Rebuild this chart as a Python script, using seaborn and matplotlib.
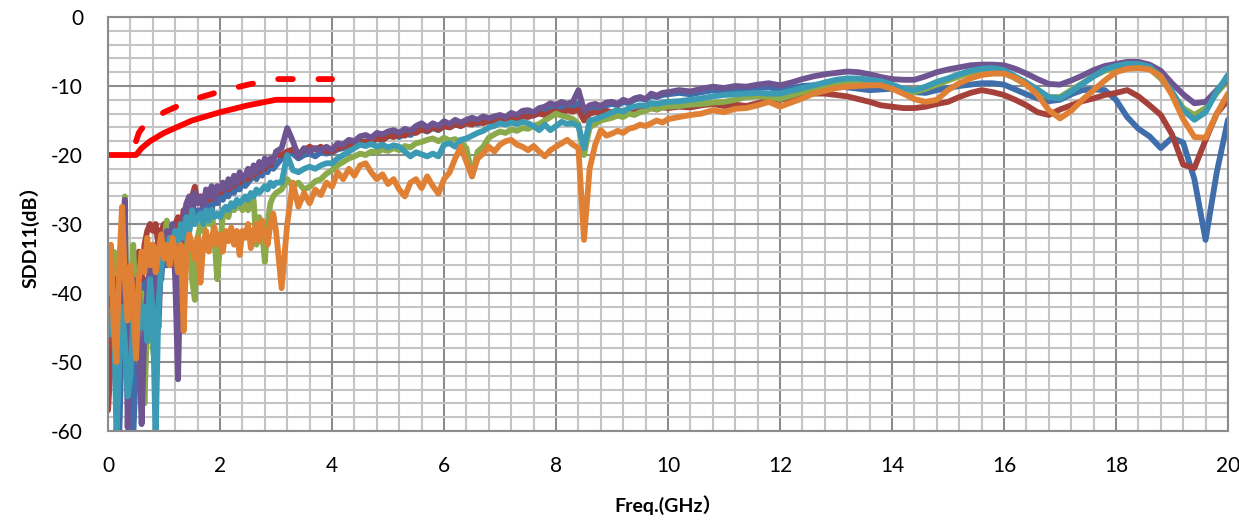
import numpy as np
import pandas as pd
import matplotlib
matplotlib.use("Agg")
import matplotlib.pyplot as plt
import seaborn as sns

# frequency grid (GHz), finer where the traces are noisy
freq_lo = np.round(np.arange(0.0, 3.0001, 0.05), 2)
freq_mid = np.round(np.arange(3.1, 10.0001, 0.1), 2)
freq_hi = np.round(np.arange(10.2, 20.0001, 0.2), 2)
freq = np.concatenate([freq_lo, freq_mid, freq_hi])

blue_lo = [-44, -47, -42, -52, -61, -45, -40, -48, -55, -61, -50, -42, -46, -38, -44, -40, -36, -41, -35, -38,
           -33, -36, -32, -35, -31, -34, -30, -32, -29, -31, -28, -30, -28, -29, -27, -28, -27, -28, -26, -27,
           -26, -26.5, -25.5, -26, -25, -25.5, -24.5, -25, -24, -24.5, -24, -23.5, -23, -23.5, -22.5, -23, -22, -22.5, -21.5, -22, -21.5]
blue_mid = [-20.5, -19.5, -19.8, -20.5, -20, -19.8, -20.2, -19.6, -19.8, -19.6,
            -19.2, -19, -18.6, -18.8, -18.2, -18, -18.2, -17.6, -17.8, -17.3,
            -17.1, -17.4, -16.9, -17.1, -16.6, -16.3, -16.6, -16.1, -16.4, -15.8,
            -16, -15.6, -15.8, -15.4, -15.2, -15.5, -15, -15.2, -14.8, -14.7,
            -14.9, -14.4, -14.6, -14.2, -14.1, -14.3, -13.8, -13.6, -13.3, -13.5,
            -13.1, -13.3, -13, -12.5, -14, -13.2, -13, -13.2, -12.8, -12.6,
            -12.8, -12.3, -12.5, -12, -11.8, -12, -11.4, -11.6, -11.3, -11.2]
blue_hi = [-11.0, -11.2, -10.9, -10.6, -10.8, -10.5, -10.6, -10.3, -10.2, -10.5,
           -10.3, -10.0, -9.9, -9.9, -10.0, -10.2, -10.4, -10.6, -10.5, -10.4,
           -10.5, -10.9, -11.0, -10.6, -10.3, -10.0, -9.8, -9.6, -9.6, -9.8,
           -10.5, -11.2, -11.8, -12.2, -12.0, -11.2, -10.6, -10.5, -10.6, -12.0,
           -14.5, -16.2, -17.3, -19.0, -17.5, -18.2, -23.5, -32.3, -22.5, -14.9]

red_lo = [-57, -50, -44, -40, -35, -38, -45, -52, -47, -40, -36, -34, -38, -33, -31, -30, -31, -30, -33, -31,
          -30, -32, -31, -36, -30, -29, -31, -28, -29, -27, -26, -24.6, -27, -26, -27, -25.5, -26.5, -25, -26, -25,
          -25.5, -25, -24.5, -25, -24, -24.5, -23.5, -24, -23.5, -23, -23.5, -22.5, -23, -22, -22.5, -21.5, -22, -21, -21.5, -20.5, -20]
red_mid = [-20, -19.5, -19.2, -19.8, -19.3, -18.8, -19.2, -18.8, -19.5, -19.5,
           -19, -18.8, -18.5, -18.7, -18, -18.2, -17.8, -17.6, -17.9, -17.2,
           -17.4, -17, -17.2, -16.6, -16.8, -16.3, -16.5, -16, -16.3, -15.8,
           -16, -15.5, -15.8, -15.4, -15.6, -15.2, -15.4, -15, -15.2, -14.8,
           -15, -14.6, -14.8, -14.4, -14.5, -14.2, -14, -14.2, -13.8, -13.7,
           -13.9, -13.5, -13.7, -13.4, -15, -14, -13.8, -14, -13.6, -13.8,
           -13.5, -13.7, -13.4, -13.6, -13.3, -13.5, -13.2, -13.4, -13.1, -13.2]
red_hi = [-13.0, -13.1, -12.8, -12.6, -12.9, -12.7, -12.9, -12.5, -12.0, -12.0,
          -11.7, -11.3, -11.1, -11.1, -11.3, -11.5, -11.9, -12.3, -12.8, -13.0,
          -13.2, -13.2, -13.0, -12.6, -12.3, -11.6, -11.0, -10.6, -10.9, -11.3,
          -12.0, -12.8, -13.8, -14.2, -13.4, -12.8, -12.2, -11.8, -11.3, -11.0,
          -10.6, -11.5, -12.8, -14.2, -17.0, -21.4, -21.9, -17.8, -14.0, -12.0]

green_lo = [-42, -38, -34, -40, -34, -45, -26, -53, -42, -33, -45, -50, -40, -56, -44, -38, -48, -51, -40, -36,
            -33, -29.5, -34, -32, -35, -31, -33, -30, -36, -32, -38, -41, -32, -30, -31, -29, -30, -28, -32, -38,
            -33, -29, -28, -29, -27, -28, -27.5, -27, -28, -26.5, -28, -27, -26.5, -33, -29, -31, -35.5, -30, -27, -26, -25.5]
green_mid = [-25, -23.5, -24.5, -24, -25, -24.6, -23.8, -23.5, -22.7, -22.2,
             -21.5, -21, -20.5, -20.2, -19.8, -20, -19.5, -19.6, -19.2, -19.4,
             -19, -19.3, -18.7, -18.9, -18.3, -18.1, -17.8, -17.6, -18, -17.5,
             -17.9, -17.7, -18.2, -19, -23.1, -19.5, -18.8, -17.5, -17, -16.6,
             -16.8, -16.3, -16.5, -16.1, -16.2, -15.8, -15.5, -15, -14.5, -14,
             -14.3, -14.5, -14.8, -15.5, -20, -16, -15.5, -15, -14.8, -14.6,
             -14.3, -14.5, -14, -14.2, -13.8, -13.6, -13.2, -13.4, -13.1, -13]
green_hi = [-12.9, -12.7, -12.6, -12.4, -12.3, -12.0, -11.6, -11.5, -11.6, -11.9,
            -11.4, -10.9, -10.5, -10.1, -9.7, -9.4, -9.4, -9.6, -9.8, -10.2,
            -10.7, -10.9, -10.4, -9.8, -9.2, -8.6, -8.1, -7.8, -7.7, -8.0,
            -8.9, -9.8, -10.8, -11.6, -11.6, -10.6, -9.6, -8.6, -7.8, -7.4,
            -7.2, -7.2, -7.5, -8.9, -11.0, -13.2, -14.2, -13.2, -11.0, -9.2]

purple_lo = [-36, -40, -45, -38, -48, -35, -26.5, -59.5, -44, -38, -42, -48, -59, -45, -40, -36, -33, -37, -45, -35,
             -33, -31, -34, -30, -38, -52.5, -34, -29, -27, -26, -29, -25.5, -27, -26, -27.5, -25, -26, -24.5, -26.5, -24.5,
             -25, -24, -25, -23.5, -24.5, -23, -24, -22.5, -23.5, -23, -22, -23, -21.5, -22.5, -21, -22, -20.5, -21.5, -20.5, -21, -19.5]
purple_mid = [-19, -16.1, -18, -20.2, -19, -19.5, -19, -19.3, -18.8, -19.3,
              -18.3, -18.5, -17.8, -18, -17.3, -17.1, -17.5, -16.8, -17, -16.6,
              -16.4, -16.8, -16.2, -16.5, -15.8, -15.4, -16, -15.4, -15.8, -15.1,
              -15.5, -14.9, -15.3, -14.9, -14.6, -14.9, -14.4, -14.7, -14.4, -14.2,
              -14.5, -13.9, -14.2, -13.6, -13.5, -13.8, -13.2, -13.0, -12.5, -12.8,
              -12.3, -12.6, -12.3, -10.6, -13.5, -12.8, -12.6, -12.9, -12.4, -12.3,
              -12.6, -12.0, -12.3, -11.8, -11.6, -11.9, -11.1, -11.4, -11.0, -10.9]
purple_hi = [-10.6, -10.8, -10.4, -10.1, -10.3, -10.0, -10.1, -9.8, -9.6, -9.9,
             -9.5, -9.0, -8.6, -8.3, -8.1, -7.9, -8.0, -8.3, -8.7, -9.0,
             -9.1, -9.1, -8.6, -8.0, -7.6, -7.3, -7.0, -6.9, -6.9, -7.0,
             -7.5, -8.2, -9.0, -9.7, -9.8, -9.2, -8.5, -7.7, -7.1, -6.8,
             -6.5, -6.5, -6.9, -7.8, -9.6, -11.2, -12.5, -12.3, -10.6, -8.9]

teal_lo = [-43, -46, -40, -61, -50, -42, -47, -55, -52, -44, -48, -40, -45, -42, -47, -38, -43, -61, -42, -36,
           -33, -35, -32, -34, -31, -33, -30, -32, -29, -31, -28, -30, -29, -28.5, -30, -28, -29.5, -28, -29, -28.5,
           -29, -28, -27.5, -28, -27, -27.5, -26.5, -27, -26.5, -26, -26.5, -25.5, -26, -25, -25.5, -25, -24.5, -25, -24, -24.5, -24]
teal_mid = [-24, -20, -22.2, -22.5, -22, -21.7, -22, -21.5, -21.2, -21.2,
            -20.5, -20, -19.5, -19, -18.5, -18.7, -18.4, -18.8, -18.5, -18.9,
            -18.6, -18.8, -19.5, -20.2, -19.6, -19.9, -20.2, -19.8, -20.2, -18.5,
            -18.3, -18.8, -17.8, -17.6, -17.2, -16.8, -16.5, -16, -15.8, -15.4,
            -15.6, -15.3, -15.5, -15.2, -15.4, -15.8, -16.4, -15.6, -16.4, -15.8,
            -15.2, -15.5, -15.4, -15.8, -19, -15, -14.8, -14.5, -14.2, -13.8,
            -13.5, -13.7, -13.2, -13, -12.8, -12.9, -12.5, -12.6, -12.4, -12.3]
teal_hi = [-12.2, -12.0, -11.8, -11.5, -11.3, -11.2, -11.1, -11.0, -11.1, -11.1,
           -10.7, -10.3, -9.9, -9.5, -9.1, -8.9, -8.9, -9.1, -9.3, -9.8,
           -10.4, -10.6, -10.1, -9.4, -8.9, -8.3, -7.8, -7.5, -7.4, -7.7,
           -8.6, -9.5, -10.5, -11.6, -11.8, -10.8, -9.7, -8.6, -7.6, -7.1,
           -6.8, -6.8, -7.2, -8.6, -10.8, -13.5, -14.9, -13.8, -10.8, -8.4]

orange_lo = [-40, -33, -45, -50, -36, -27.5, -38, -44, -36, -41, -49.5, -38, -34, -37, -32, -36, -33, -37, -34, -31.5,
             -35, -33, -36, -32, -34, -37, -33, -45.5, -34, -31.5, -33, -35, -32, -38.5, -33, -31, -34, -32, -30.5, -33,
             -31.5, -34, -31, -32.5, -30.5, -33, -31, -34.5, -31, -32, -30, -33.5, -31, -30, -32.5, -29.5, -31.5, -33, -30, -28.5, -31]
orange_mid = [-39.3, -30, -24, -27.5, -25.5, -27, -25, -25.8, -24, -24.6,
              -22.5, -23.5, -22, -23, -21.5, -21.2, -22.5, -23.5, -22.8, -24.2,
              -23.5, -25, -26, -24, -23.5, -24.8, -23.1, -24.5, -25.6, -23.5,
              -22.5, -20.5, -18.8, -21, -23.1, -20.5, -19.8, -18.8, -19.5, -18.5,
              -18, -17.8, -18.5, -18.8, -19.3, -18.7, -19.5, -20.2, -19.3, -18.8,
              -18.3, -17.8, -18.5, -19, -32.3, -22, -18.5, -16.4, -17.2, -16.9,
              -16.5, -16.8, -16.2, -16.0, -15.6, -15.8, -15.4, -15.0, -15.3, -14.8]
orange_hi = [-14.5, -14.2, -14.0, -13.5, -13.8, -13.3, -13.2, -12.8, -12.3, -13.0,
             -12.4, -11.8, -11.1, -10.7, -10.3, -10.1, -10.0, -9.9, -9.9, -10.4,
             -11.1, -11.9, -12.3, -12.0, -10.6, -9.6, -8.9, -8.4, -8.2, -8.2,
             -8.8, -9.8, -11.3, -13.5, -14.7, -13.6, -12.0, -10.6, -9.2, -8.0,
             -7.5, -7.4, -7.6, -8.6, -11.3, -14.8, -17.4, -17.5, -14.0, -11.1]

# limit lines
limit_f = [0.0, 0.5, 0.6, 0.75, 1.0, 1.5, 2.0, 2.5, 3.0, 4.0]
limit_db = [-20, -20, -19.0, -18.0, -16.8, -15.0, -13.8, -12.8, -12.0, -12.0]
limit2_f = [0.5, 0.55, 0.6, 0.75, 1.0, 1.5, 2.0, 2.5, 3.0, 4.0]
limit2_db = [-18.0, -16.8, -16.2, -15.2, -13.8, -12.0, -10.8, -9.8, -9.0, -9.0]

series = {
    "blue": blue_lo + blue_mid + blue_hi,
    "red": red_lo + red_mid + red_hi,
    "green": green_lo + green_mid + green_hi,
    "purple": purple_lo + purple_mid + purple_hi,
    "teal": teal_lo + teal_mid + teal_hi,
    "orange": orange_lo + orange_mid + orange_hi,
}
colors = {"blue": "#3F6EAA", "red": "#A5403A", "green": "#8AAA4B",
          "purple": "#6E5591", "teal": "#3C9BB4", "orange": "#E08034"}

frames = []
for name, vals in series.items():
    frames.append(pd.DataFrame({"freq": freq, "sdd11": vals, "trace": name}))
df = pd.concat(frames, ignore_index=True)

sns.set_style("white")
plt.rcParams["font.family"] = ["Lato", "Noto Sans CJK TC", "DejaVu Sans"]
plt.rcParams["axes.unicode_minus"] = False
plt.rcParams["text.color"] = "black"
plt.rcParams["axes.labelcolor"] = "black"
plt.rcParams["xtick.color"] = "black"
plt.rcParams["ytick.color"] = "black"

fig = plt.figure(figsize=(12.39, 5.23), dpi=100)
ax = fig.add_axes([0.0872, 0.1759, 0.9039, 0.7916])

lw = 4.2
sns.lineplot(data=df, x="freq", y="sdd11", hue="trace", hue_order=list(series.keys()),
             palette=colors, linewidth=lw, estimator=None, sort=False, legend=False, ax=ax,
             solid_joinstyle="round", solid_capstyle="round")
sns.lineplot(x=limit_f, y=limit_db, color="#FF0000", linewidth=lw, estimator=None, sort=False, ax=ax,
             solid_joinstyle="round", solid_capstyle="round")
sns.lineplot(x=limit2_f, y=limit2_db, color="#FF0000", linewidth=lw, estimator=None, sort=False, ax=ax,
             linestyle=(0, (2.5, 4.4)), dash_capstyle="round")

ax.set_xlim(0, 20)
ax.set_ylim(-60, 0)
ax.set_xticks(np.arange(0, 21, 2))
ax.set_xticks(np.arange(0, 20.01, 0.4), minor=True)
ax.set_yticks(np.arange(-60, 1, 10))
ax.set_yticks(np.arange(-60, 0.1, 2), minor=True)
ax.set_axisbelow(True)
ax.grid(which="major", color="#8C8C8C", linewidth=1.5)
ax.grid(which="minor", color="#C4C4C4", linewidth=1.5)
for s in ax.spines.values():
    s.set_color("#8C8C8C")
    s.set_linewidth(1.5)

ax.tick_params(axis="x", which="both", length=0, pad=18, labelsize=15)
ax.tick_params(axis="y", which="major", length=6, width=1.5, color="#8C8C8C", pad=12, labelsize=15, direction="out")
ax.tick_params(axis="y", which="minor", length=0)

ax.set_xlabel("Freq.(GHz）", fontsize=14, fontweight="bold")
ax.set_ylabel("SDD11(dB）", fontsize=14, fontweight="bold")
ax.xaxis.set_label_coords(0.5, -0.155)
ax.yaxis.set_label_coords(-0.061, 0.48)

fig.savefig("out.png", dpi=100)
